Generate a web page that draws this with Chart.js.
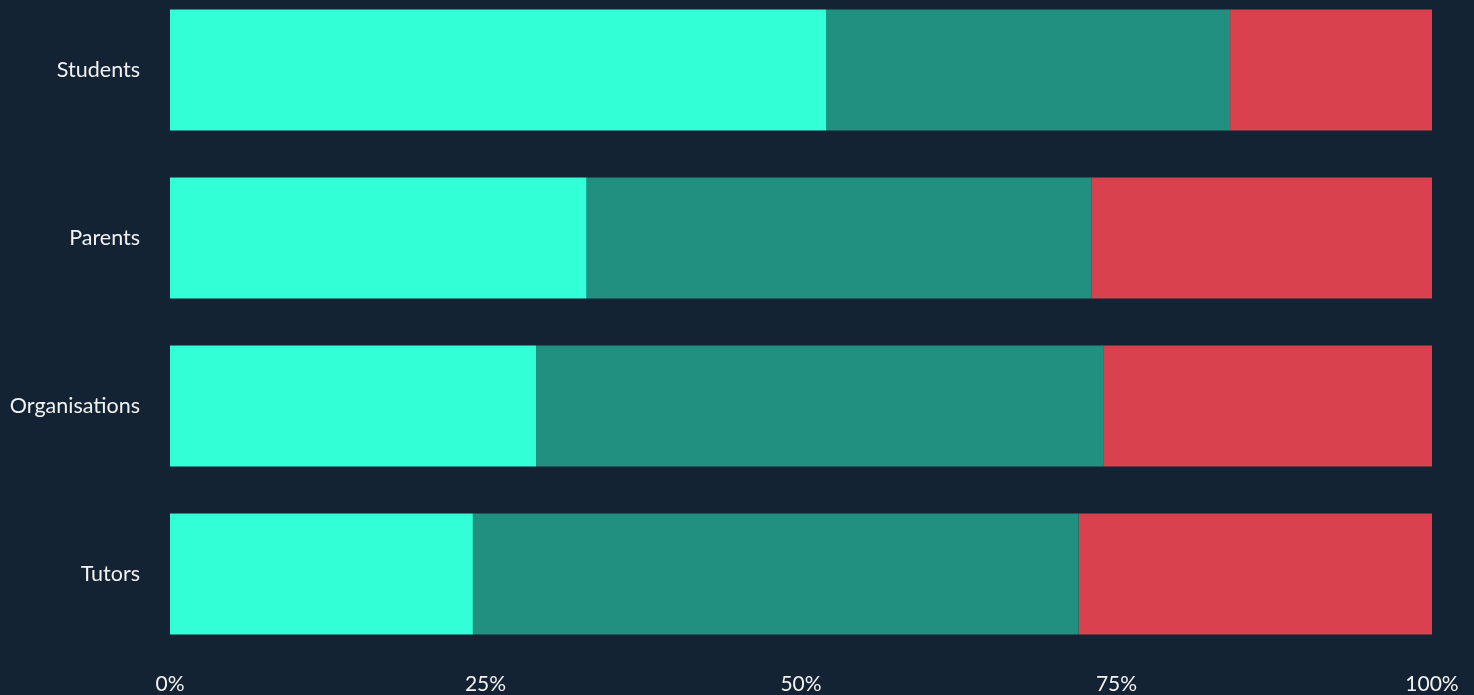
<!DOCTYPE html>
<html>
<head>
<meta charset="utf-8">
<script src="https://cdn.jsdelivr.net/npm/chart.js@4"></script>
<style>
    html, body { margin: 0; padding: 0; background: #132333; overflow: hidden; }
    /* Diagramm leicht nach oben verschoben, damit der obere Rand wie im Original beschnitten ist */
    .chart-wrapper { position: absolute; left: 0; top: -57.4px; width: 1474px; height: 757.8px; }
</style>
</head>
<body>
<div class="chart-wrapper"><canvas id="chart"></canvas></div>
<script>
// Gruppen und Anteile (in Prozent)
const groups = ['Students', 'Parents', 'Organisations', 'Tutors'];
const positive = [52, 33, 29, 24];
const neutral = [32, 40, 45, 48];
const negative = [16, 27, 26, 28];
const tickValues = [0, 25, 50, 75, 100];

new Chart(document.getElementById('chart'), {
    type: 'bar',
    data: {
        labels: groups,
        datasets: [
            { label: 'Positive', data: positive, backgroundColor: '#33ffd7' },
            { label: 'Neutral', data: neutral, backgroundColor: '#219080' },
            { label: 'Negative', data: negative, backgroundColor: '#d9414e' },
        ],
    },
    options: {
        indexAxis: 'y',
        responsive: true,
        maintainAspectRatio: false,
        animation: false,
        layout: { padding: { left: 0, right: 42, top: 0, bottom: 0 } },
        barPercentage: 0.72,
        categoryPercentage: 1,
        plugins: {
            legend: { display: false },
            tooltip: { enabled: false },
        },
        scales: {
            x: {
                stacked: true,
                min: 0,
                max: 100,
                grid: { display: false, drawTicks: false },
                border: { display: false },
                afterBuildTicks: s => { s.ticks = tickValues.map(v => ({ value: v })); },
                afterFit: s => { s.height = 37.5; },
                ticks: {
                    color: '#f2f2f2',
                    font: { family: 'Lato', size: 21 },
                    padding: 14,
                    maxRotation: 0,
                    callback: v => v + '%',
                },
            },
            y: {
                stacked: true,
                grid: { display: false, drawTicks: false },
                border: { display: false },
                afterFit: s => { s.width = 170; },
                ticks: { color: '#f2f2f2', font: { family: 'Lato', size: 21.5 }, padding: 30 },
            },
        },
    },
});
</script>
</body>
</html>
